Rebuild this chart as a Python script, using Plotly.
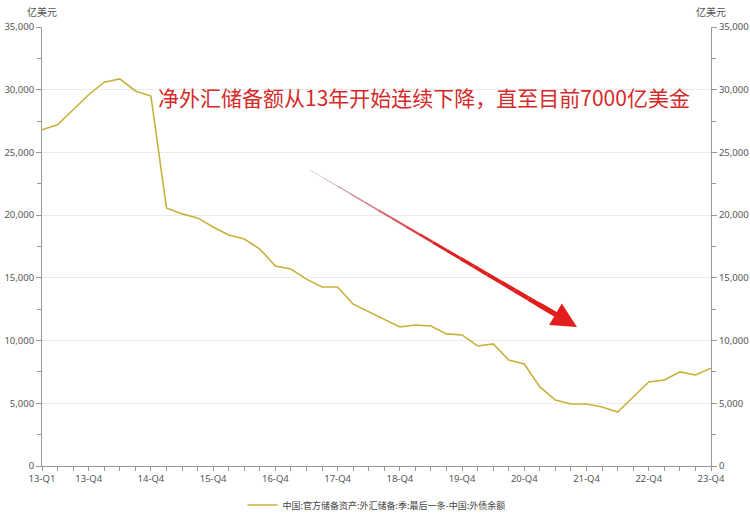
import plotly.graph_objects as go

quarters = [f"{y}-Q{q}" for y in range(13, 24) for q in range(1, 5)]
reserves = [26800, 27200, 28400, 29600, 30600, 30860, 29900, 29500,
            20570, 20100, 19780, 19060, 18420, 18100, 17300, 15950,
            15700, 14900, 14270, 14270, 12900, 12280, 11720, 11080,
            11240, 11160, 10530, 10450, 9570, 9730, 8450, 8130,
            6300, 5260, 4940, 4940, 4700, 4300, 5500, 6700,
            6860, 7500, 7260, 7800]
tick_labels = ["13-Q1", "13-Q4", "14-Q4", "15-Q4", "16-Q4", "17-Q4",
               "18-Q4", "19-Q4", "20-Q4", "21-Q4", "22-Q4", "23-Q4"]
series_name = "中国:官方储备资产:外汇储备:季:最后一条-中国:外债余额"
unit = "亿美元"
note = "净外汇储备额从13年开始连续下降，直至目前7000亿美金"

W, H = 750, 517
L, R, T, B = 42, 39, 27, 51
PW, PH = W - L - R, H - T - B

def px(x):  # screen pixel -> paper
    return (x - L) / PW

def py(y):
    return (H - B - y) / PH

fig = go.Figure()
fig.add_trace(go.Scatter(x=quarters, y=reserves, mode="lines", name=series_name,
                         line=dict(color="#c9b03a", width=1.6), yaxis="y"))
fig.add_trace(go.Scatter(x=quarters, y=reserves, mode="lines", showlegend=False,
                         opacity=0, hoverinfo="skip", yaxis="y2"))

tickfont = dict(family="Noto Sans, DejaVu Sans", size=9.5, color="#555555")
yax = dict(range=[0, 35000], dtick=5000, tickformat=",", showline=True,
           linecolor="#999999", linewidth=1, ticks="outside", ticklen=5,
           tickcolor="#999999", tickfont=tickfont, zeroline=False, automargin=False,
           minor=dict(dtick=2500, ticks="outside", ticklen=4, tickcolor="#999999", showgrid=False))
fig.update_layout(
    width=W, height=H,
    margin=dict(l=L, r=R, t=T, b=B, autoexpand=False),
    plot_bgcolor="white", paper_bgcolor="white",
    xaxis=dict(type="category", range=[0, len(quarters) - 1], tickmode="array",
               tickvals=quarters,
               ticktext=[q if q in tick_labels else "" for q in quarters],
               showline=True, linecolor="#999999", ticks="outside", ticklen=4,
               tickcolor="#999999", tickfont=tickfont, showgrid=False, tickangle=0,
               automargin=False),
    yaxis=dict(**yax, side="left", showgrid=True, gridcolor="#ebebeb", gridwidth=1),
    yaxis2=dict(**yax, side="right", overlaying="y", showgrid=False),
    legend=dict(orientation="h", x=0.5, xanchor="center", y=py(505), yanchor="middle",
                font=dict(family="Noto Sans CJK SC", size=9, color="#444444"),
                itemwidth=30),
    showlegend=True,
)

fig.add_annotation(x=0, y=py(12), xref="paper", yref="paper", text=unit, showarrow=False,
                   font=dict(family="Noto Sans CJK SC", size=10, color="#555555"),
                   xanchor="center", yanchor="middle")
fig.add_annotation(x=1, y=py(12), xref="paper", yref="paper", text=unit, showarrow=False,
                   font=dict(family="Noto Sans CJK SC", size=10, color="#555555"),
                   xanchor="center", yanchor="middle")
fig.add_annotation(x=px(156), y=py(97), xref="paper", yref="paper", text=note, showarrow=False,
                   font=dict(family="Noto Sans CJK SC", size=21, color="#d42a2a"),
                   xanchor="left", yanchor="middle")

# gradient arrow shaft
x0, y0 = 310, 170
x1, y1 = 577, 327
n = 18
end_frac = 0.92
def lerp(a, b, t):
    return a + (b - a) * t
c0 = (200, 190, 205)
c1 = (225, 30, 30)
for i in range(n):
    t0 = i / n * end_frac
    t1 = (i + 1) / n * end_frac
    t = (i + 0.5) / n
    col = tuple(int(lerp(c0[k], c1[k], min(1, t * 1.8))) for k in range(3))
    fig.add_shape(type="line", xref="paper", yref="paper",
                  x0=px(lerp(x0, x1, t0)), y0=py(lerp(y0, y1, t0)),
                  x1=px(lerp(x0, x1, t1)), y1=py(lerp(y0, y1, t1)),
                  line=dict(color="rgb(%d,%d,%d)" % col, width=0.5 + 4.5 * t))
fig.add_annotation(x=px(x1), y=py(y1), xref="paper", yref="paper", text="",
                   showarrow=True, ax=-40, ay=-23.5, arrowhead=2, arrowsize=1.0,
                   arrowwidth=5, arrowcolor="#e21e1e", standoff=0)

fig.write_html("out.html", config={"displayModeBar": False},
               post_script="document.body.style.margin='0';")
